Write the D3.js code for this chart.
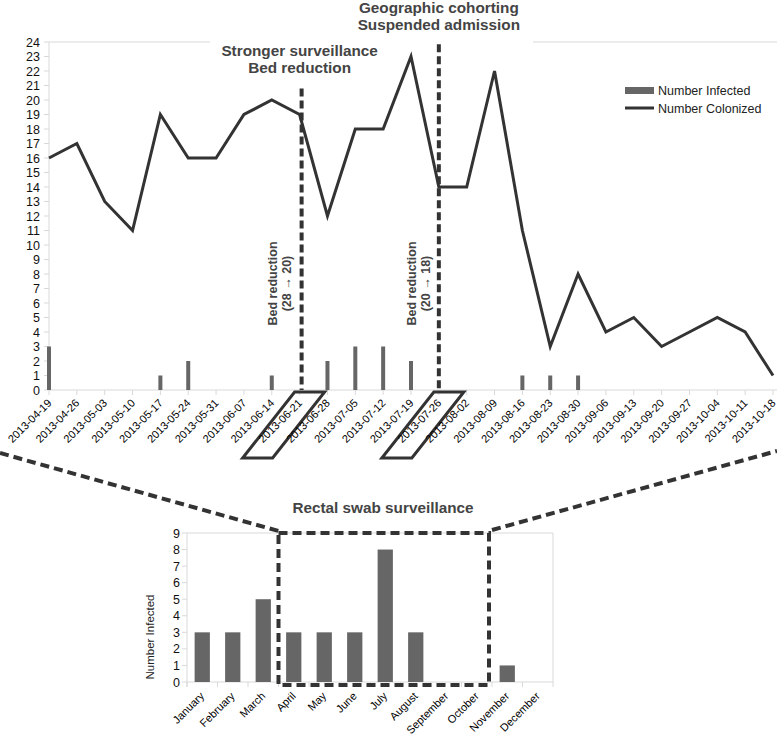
<!DOCTYPE html>
<html><head><meta charset="utf-8">
<script src="https://cdn.jsdelivr.net/npm/d3@7"></script>
<style>body{margin:0;background:#fff}svg{display:block;font-family:"Liberation Sans",Arial,sans-serif}</style>
</head><body>
<svg id="c" width="777" height="743"></svg>
<script>
const weeks = ["2013-04-19","2013-04-26","2013-05-03","2013-05-10","2013-05-17","2013-05-24","2013-05-31","2013-06-07","2013-06-14","2013-06-21","2013-06-28","2013-07-05","2013-07-12","2013-07-19","2013-07-26","2013-08-02","2013-08-09","2013-08-16","2013-08-23","2013-08-30","2013-09-06","2013-09-13","2013-09-20","2013-09-27","2013-10-04","2013-10-11","2013-10-18"];
const colonized = [16,17,13,11,19,16,16,19,20,19,12,18,18,23,14,14,22,11,3,8,4,5,3,4,5,4,1];
const infected  = [3,0,0,0,1,2,0,0,1,0,2,3,3,2,0,0,0,1,1,1,0,0,0,0,0,0,0];
const yTicksTop = d3.range(0,25);
const months = ["January","February","March","April","May","June","July","August","September","October","November","December"];
const monthly = [3,3,5,3,3,3,8,3,0,0,1,0];
const yTicksBottom = d3.range(0,10);
const events = [
  {week:"2013-06-21", top:20.8, shift:2, title:["Stronger surveillance","Bed reduction"], note:["Bed reduction","(28 → 20)"]},
  {week:"2013-07-26", top:23.85, shift:0, title:["Geographic cohorting","Suspended admission"], note:["Bed reduction","(20 → 18)"]}
];
const zoomMonths = ["April","October"];

const svg = d3.select("#c");
const dark = "#333", barC = "#666", grid = "#d9d9d9";

// ---------- top chart ----------
const x = d3.scalePoint().domain(weeks).range([49,773]);
const y = d3.scaleLinear().domain([0,24]).range([390,42]);

svg.append("line").attr("x1",49).attr("x2",777).attr("y1",y(24)).attr("y2",y(24)).attr("stroke",grid);
svg.append("line").attr("x1",49).attr("x2",49).attr("y1",y(24)).attr("y2",y(0)).attr("stroke",grid);
svg.append("line").attr("x1",49).attr("x2",777).attr("y1",y(0)).attr("y2",y(0)).attr("stroke",grid);
svg.append("g").selectAll("line").data(weeks).join("line")
  .attr("x1",d=>x(d)).attr("x2",d=>x(d)).attr("y1",y(0)).attr("y2",y(0)+5).attr("stroke",grid);
const ya = svg.append("g");
ya.selectAll("line").data(yTicksTop).join("line")
  .attr("x1",44).attr("x2",49).attr("y1",d=>y(d)).attr("y2",d=>y(d)).attr("stroke",grid);
ya.selectAll("text").data(yTicksTop).join("text")
  .attr("x",40).attr("y",d=>y(d)).attr("dy","0.36em").attr("text-anchor","end")
  .attr("font-size",12.5).attr("fill","#111").text(d=>d);

svg.append("g").selectAll("rect").data(weeks.map((w,i)=>({w,v:infected[i]})).filter(d=>d.v>0)).join("rect")
  .attr("x",d=>x(d.w)-2).attr("width",4).attr("y",d=>y(d.v)).attr("height",d=>y(0)-y(d.v)).attr("fill",barC);

svg.append("rect").attr("x",210).attr("y",0).attr("width",323).attr("height",y(24)+2).attr("fill","#fff");

svg.append("path").datum(colonized)
  .attr("d",d3.line().x((d,i)=>x(weeks[i])).y(d=>y(d)))
  .attr("fill","none").attr("stroke",dark).attr("stroke-width",3).attr("stroke-linejoin","miter");

events.forEach((e,k)=>{
  const tx = x(e.week);
  const ex = tx+e.shift;
  svg.append("line").attr("x1",ex).attr("x2",ex).attr("y1",y(e.top)).attr("y2",y(0))
    .attr("stroke",dark).attr("stroke-width",4).attr("stroke-dasharray","8,4");
  const tt = svg.append("text").attr("text-anchor","middle").attr("font-size",15.3).attr("font-weight","bold").attr("fill","#444");
  const ty = k===0 ? 56 : 13;
  e.title.forEach((t,j)=>tt.append("tspan").attr("x",tx).attr("y",ty+j*17).text(t));
  const nt = svg.append("text").attr("transform",`translate(${tx-22.5},283.5) rotate(-90)`)
    .attr("text-anchor","middle").attr("font-size",12.5).attr("font-weight","bold").attr("fill","#444");
  e.note.forEach((t,j)=>nt.append("tspan").attr("x",0).attr("y",j*14).text(t));
  svg.append("path").attr("d",`M${tx-5},${y(0)+2}L${tx+25},${y(0)+2}L${tx-27},${y(0)+68}L${tx-57},${y(0)+68}Z`)
    .attr("fill","none").attr("stroke",dark).attr("stroke-width",3);
});

svg.append("g").selectAll("text").data(weeks).join("text")
  .attr("transform",d=>`translate(${x(d)+0.5},${y(0)+11}) rotate(-45)`)
  .attr("text-anchor","end").attr("dy","0.35em").attr("font-size",11).attr("fill","#000").text(d=>d);

svg.append("rect").attr("x",625).attr("y",87).attr("width",29).attr("height",7).attr("fill",barC);
svg.append("line").attr("x1",625).attr("x2",654).attr("y1",108).attr("y2",108).attr("stroke",dark).attr("stroke-width",3);
svg.append("text").attr("x",658).attr("y",95).attr("font-size",12.5).attr("fill","#222").text("Number Infected");
svg.append("text").attr("x",658).attr("y",112.5).attr("font-size",12.5).attr("fill","#222").text("Number Colonized");

// ---------- bottom chart ----------
const xb = d3.scaleBand().domain(months).range([187,553]).padding(0);
const yb = d3.scaleLinear().domain([0,9]).range([682,533]);

svg.append("line").attr("x1",187).attr("x2",553).attr("y1",yb(9)).attr("y2",yb(9)).attr("stroke",grid);
svg.append("line").attr("x1",553).attr("x2",553).attr("y1",yb(9)).attr("y2",yb(0)+5).attr("stroke",grid);
svg.append("line").attr("x1",187).attr("x2",187).attr("y1",yb(9)).attr("y2",yb(0)+5).attr("stroke",grid);
svg.append("line").attr("x1",187).attr("x2",553).attr("y1",yb(0)).attr("y2",yb(0)).attr("stroke",grid);
svg.append("g").selectAll("line").data(months).join("line")
  .attr("x1",d=>xb(d)).attr("x2",d=>xb(d)).attr("y1",yb(0)).attr("y2",yb(0)+5).attr("stroke",grid);
const yba = svg.append("g");
yba.selectAll("line").data(yTicksBottom).join("line")
  .attr("x1",182).attr("x2",187).attr("y1",d=>yb(d)).attr("y2",d=>yb(d)).attr("stroke",grid);
yba.selectAll("text").data(yTicksBottom).join("text")
  .attr("x",180).attr("y",d=>yb(d)).attr("dy","0.36em").attr("text-anchor","end")
  .attr("font-size",12.5).attr("fill","#111").text(d=>d);

svg.append("g").selectAll("rect").data(months.map((m,i)=>({m,v:monthly[i]})).filter(d=>d.v>0)).join("rect")
  .attr("x",d=>xb(d.m)+xb.bandwidth()*0.25).attr("width",xb.bandwidth()*0.5)
  .attr("y",d=>yb(d.v)).attr("height",d=>yb(0)-yb(d.v)).attr("fill",barC);

svg.append("g").selectAll("text").data(months).join("text")
  .attr("transform",d=>`translate(${xb(d)+xb.bandwidth()/2},${yb(0)+12}) rotate(-45)`)
  .attr("text-anchor","end").attr("dy","0.35em").attr("font-size",11).attr("fill","#000").text(d=>d);

svg.append("text").attr("transform",`translate(154,637) rotate(-90)`).attr("text-anchor","middle")
  .attr("font-size",11.5).attr("fill","#222").text("Number Infected");
svg.append("text").attr("x",383).attr("y",513).attr("text-anchor","middle").attr("font-size",15.3)
  .attr("font-weight","bold").attr("fill","#444").text("Rectal swab surveillance");

const bx0 = xb(zoomMonths[0]), bx1 = xb(zoomMonths[1])+xb.bandwidth()-3;
svg.append("rect").attr("x",bx0).attr("y",yb(9)).attr("width",bx1-bx0).attr("height",yb(0)+3-yb(9))
  .attr("fill","none").attr("stroke",dark).attr("stroke-width",4).attr("stroke-dasharray","9,5");
svg.append("line").attr("x1",0).attr("y1",453).attr("x2",bx0).attr("y2",yb(9)-2)
  .attr("stroke",dark).attr("stroke-width",4).attr("stroke-dasharray","9,5");
svg.append("line").attr("x1",bx1+3).attr("y1",yb(9)-3).attr("x2",777).attr("y2",451)
  .attr("stroke",dark).attr("stroke-width",4).attr("stroke-dasharray","9,5");
</script>
</body></html>
